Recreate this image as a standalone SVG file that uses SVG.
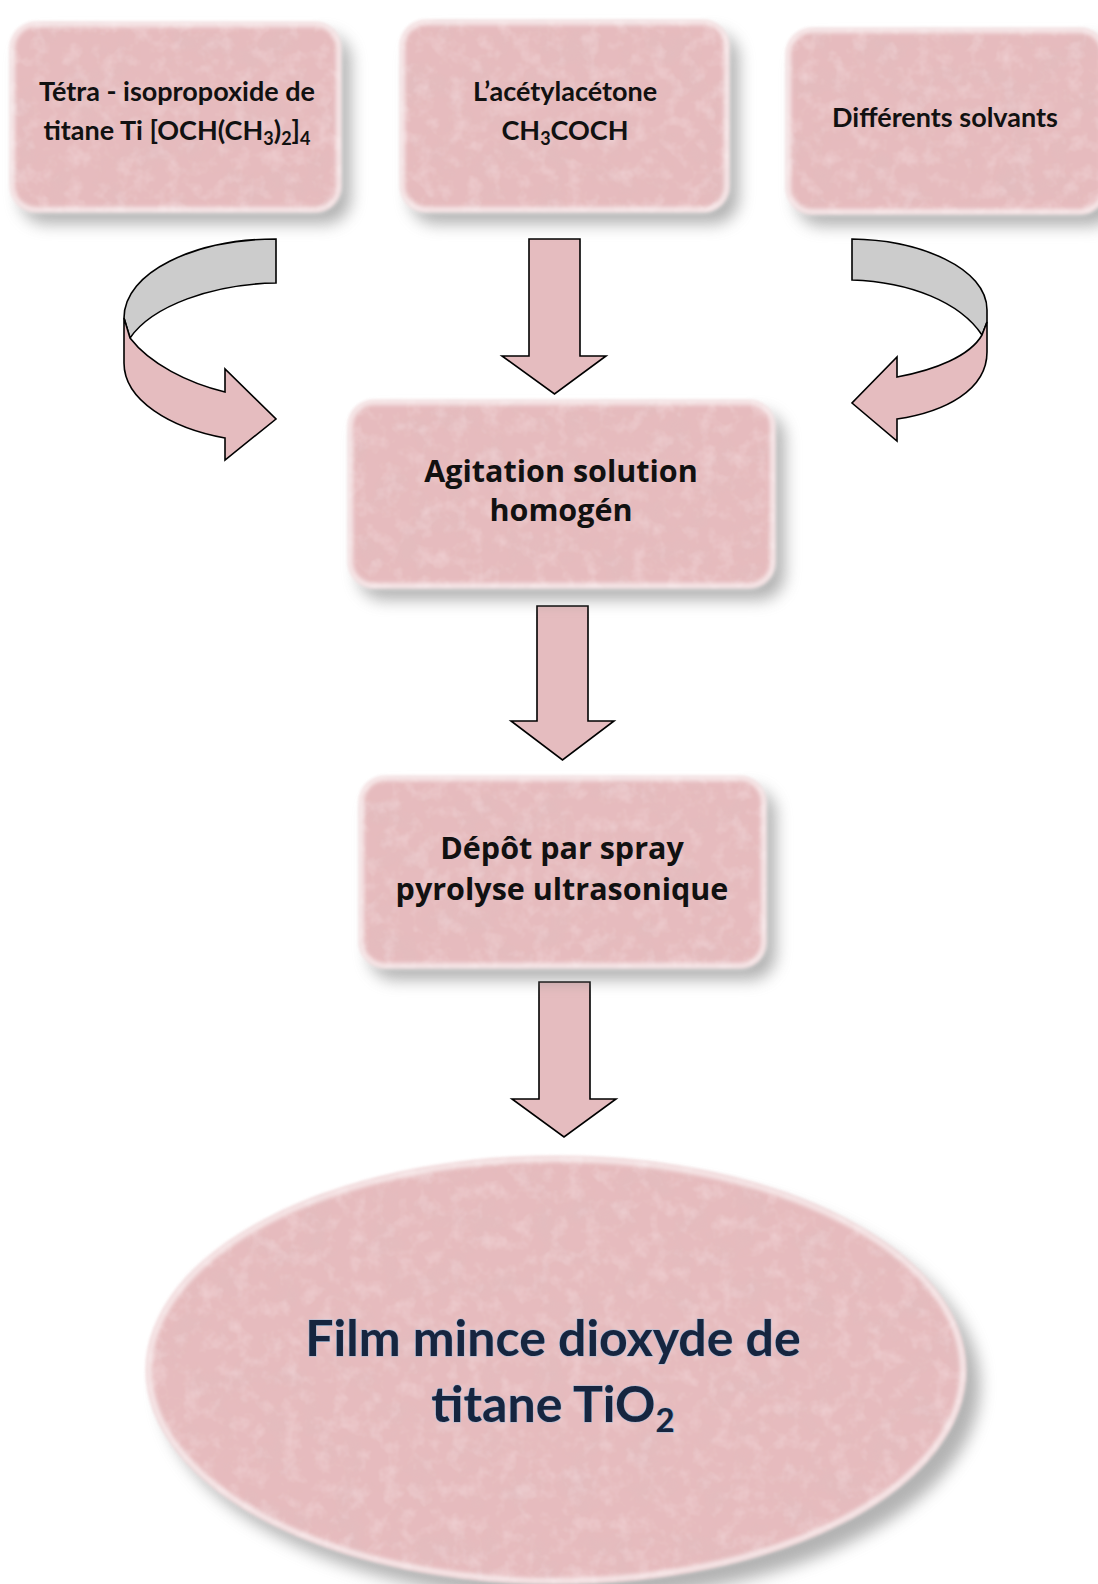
<svg xmlns="http://www.w3.org/2000/svg" width="1098" height="1584" viewBox="0 0 1098 1584">
<style>
.box{fill:#e6bbbe;filter:url(#tex)}
.edge{fill:none;stroke:#ffffff;stroke-width:6;opacity:.65;filter:url(#eblur)}
.shadow{fill:#808080;opacity:.6;filter:url(#blur)}
.arrow{fill:#e5bcbf;stroke:#000;stroke-width:1.6;stroke-linejoin:miter}
.band{fill:#cccccc;stroke:#000;stroke-width:1.6}
.t1{font-family:Lato,"Liberation Sans",sans-serif;font-weight:700;font-size:27px;fill:#111;text-anchor:middle}
.t2{font-family:"Open Sans","DejaVu Sans",sans-serif;font-weight:700;font-size:30.5px;fill:#111;text-anchor:middle}
.t3{font-family:Lato,"Liberation Sans",sans-serif;font-weight:700;font-size:50px;fill:#16253f;stroke:#a9bdd8;stroke-width:1.2;paint-order:stroke;text-anchor:middle}
</style>
<defs>
<filter id="blur" x="-15%" y="-15%" width="135%" height="140%">
<feGaussianBlur stdDeviation="8"/>
</filter>
<filter id="eblur" x="-5%" y="-5%" width="110%" height="110%">
<feGaussianBlur stdDeviation="2"/>
</filter>
<filter id="tex" x="-3%" y="-3%" width="106%" height="106%">
<feGaussianBlur in="SourceGraphic" stdDeviation="1.5" result="soft"/>
<feTurbulence type="fractalNoise" baseFrequency="0.03" numOctaves="4" seed="7" result="n"/>
<feColorMatrix in="n" type="matrix" values="0 0 0 0 0.72  0 0 0 0 0.52  0 0 0 0 0.54  0 0 0 0.8 -0.38" result="dark"/>
<feComposite in="dark" in2="soft" operator="in" result="d2"/>
<feTurbulence type="fractalNoise" baseFrequency="0.06" numOctaves="3" seed="21" result="n2"/>
<feColorMatrix in="n2" type="matrix" values="0 0 0 0 1  0 0 0 0 0.88  0 0 0 0 0.9  0 0 0 0.6 -0.28" result="light"/>
<feComposite in="light" in2="soft" operator="in" result="l2"/>
<feMerge><feMergeNode in="soft"/><feMergeNode in="d2"/><feMergeNode in="l2"/></feMerge>
</filter>
</defs>
<rect width="1098" height="1584" fill="#ffffff"/>

<g id="connectors">
<path class="arrow" d="M529,239 H580 V356 H606 L554.5,394 L502,356 H529 Z"/>
<path class="arrow" d="M537,606 H588 V721 H614 L562.5,760 L511,721 H537 Z"/>
<path class="arrow" d="M539,982 H590 V1099 H616 L564,1137 L512,1099 H539 Z"/>
<g id="curve-left">
<path class="band" d="M276,239 L276,283 C212,284 152,306 130,338 L124,318 C124,272 195,239 276,239 Z"/>
<path class="arrow" d="M124,318 L130,338 C150,364 188,383 225,392 L225,369 L276,419 L225,460 L225,438 C170,428 124,400 124,363 Z"/>
</g>
<g id="curve-right">
<path class="band" d="M852,239 C920,240 987,268 987,310 L987,322 L982,335 C960,302 910,282 852,280 Z"/>
<path class="arrow" d="M987,322 L987,352 C987,390 945,412 897,419 L897,441 L852,403 L897,357 L897,377 C935,370 970,356 982,335 Z"/>
</g>
</g>

<g id="node-tetra">
<rect class="shadow" x="20" y="34" width="331" height="190" rx="26"/>
<rect class="box" x="10" y="22" width="331" height="190" rx="26"/>
<rect class="edge" x="12" y="24" width="327" height="186" rx="24"/>
<text class="t1" x="177" y="101">Tétra - isopropoxide de</text>
<text class="t1" x="177" y="140">titane Ti [OCH(CH<tspan font-size="18" dy="5">3</tspan><tspan dy="-5">)</tspan><tspan font-size="18" dy="5">2</tspan><tspan dy="-5">]</tspan><tspan font-size="18" dy="5">4</tspan></text>
</g>

<g id="node-acetyl">
<rect class="shadow" x="410" y="32" width="329" height="192" rx="26"/>
<rect class="box" x="400" y="20" width="329" height="192" rx="26"/>
<rect class="edge" x="402" y="22" width="325" height="188" rx="24"/>
<text class="t1" x="565" y="101">L’acétylacétone</text>
<text class="t1" x="565" y="140">CH<tspan font-size="18" dy="5">3</tspan><tspan dy="-5">COCH</tspan></text>
</g>

<g id="node-solvants">
<rect class="shadow" x="796" y="40" width="320" height="186" rx="26"/>
<rect class="box" x="786" y="28" width="320" height="186" rx="26"/>
<rect class="edge" x="788" y="30" width="316" height="182" rx="24"/>
<text class="t1" x="945" y="127">Différents solvants</text>
</g>

<g id="node-agitation">
<rect class="shadow" x="358" y="412" width="427" height="188" rx="26"/>
<rect class="box" x="348" y="400" width="427" height="188" rx="26"/>
<rect class="edge" x="350" y="402" width="423" height="184" rx="24"/>
<text class="t2" x="561" y="482">Agitation solution</text>
<text class="t2" x="561" y="521">homogén</text>
</g>

<g id="node-depot">
<rect class="shadow" x="369" y="788" width="407" height="192" rx="26"/>
<rect class="box" x="359" y="776" width="407" height="192" rx="26"/>
<rect class="edge" x="361" y="778" width="403" height="188" rx="24"/>
<text class="t2" x="562" y="859">Dépôt par spray</text>
<text class="t2" x="562" y="900">pyrolyse ultrasonique</text>
</g>

<g id="node-film">
<ellipse class="shadow" cx="570" cy="1386" rx="410" ry="214"/>
<ellipse class="box" cx="556" cy="1370" rx="410" ry="214"/>
<ellipse class="edge" cx="556" cy="1370" rx="407" ry="211"/>
<text class="t3" x="553" y="1356">Film mince dioxyde de</text>
<text class="t3" x="553" y="1422">titane TiO<tspan font-size="33" dy="10">2</tspan></text>
</g>
</svg>
